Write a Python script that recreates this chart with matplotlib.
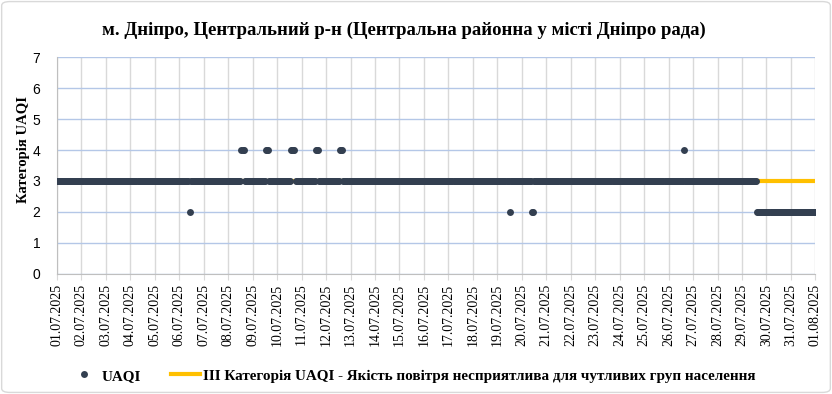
import numpy as np
import matplotlib.pyplot as plt
from matplotlib.patches import FancyBboxPatch

plt.rcParams['font.family'] = ['Liberation Serif', 'DejaVu Serif']

# hourly series, 01.07.2025 00:00 .. 01.08.2025 00:00 (hour index)
n_hours = 745
base_value = 3
hours_4 = [181, 182, 183, 205, 206, 207, 230, 231, 232, 233,
           254, 255, 256, 278, 279, 280, 615]
hours_2 = [130, 444, 466, 467]
switch_hour = 687          # from here on the category is 2
switch_value = 2
threshold = 3              # III category line

day_labels = ['%02d.07.2025' % d for d in range(1, 32)] + ['01.08.2025']

uaqi = np.full(n_hours, base_value, dtype=float)
uaqi[switch_hour:] = switch_value
uaqi[hours_4] = 4
uaqi[hours_2] = 2
hours = np.arange(n_hours)

fig = plt.figure(figsize=[8.32, 3.94], dpi=100)
ax = fig.add_axes([0.0685, 0.3046, 0.9115, 0.5507])

ax.plot([0, n_hours - 1], [threshold, threshold], color='#FFC000', lw=3, zorder=2,
        label='III Категорія UAQI - Якість повітря несприятлива для чутливих груп населення')
ax.plot(hours, uaqi, 'o', color='#333F50', ms=5, mew=0, zorder=3, label='UAQI')

ax.set_xlim(0, n_hours - 1)
ax.set_ylim(0, 7)
ax.set_xticks(np.arange(0, n_hours, 24))
ax.set_xticklabels(day_labels, rotation=90, fontsize=10)
ax.set_yticks(range(8))
ax.set_yticklabels([str(v) for v in range(8)], family='Liberation Sans', fontsize=10)
ax.tick_params(axis='y', length=0, pad=12)
ax.tick_params(axis='x', length=4, color='#D9D9D9', pad=3)

ax.grid(axis='x', color='#D9D9D9', lw=1)
ax.grid(axis='y', color='#B4C7E7', lw=1)
ax.set_axisbelow(True)
for s in ['top', 'right']:
    ax.spines[s].set_visible(False)
for s in ['left', 'bottom']:
    ax.spines[s].set_color('#BFBFBF')

fig.text(0.486, 0.922, 'м. Дніпро, Центральний р-н (Центральна районна у місті Дніпро рада)',
         ha='center', va='center', fontsize=13.5, fontweight='bold')
fig.text(0.028, 0.62, 'Категорія UAQI', rotation=90, ha='center', va='center',
         fontsize=10.5, fontweight='bold')

h, l = ax.get_legend_handles_labels()
fig.legend(h[::-1], l[::-1], loc='center', bbox_to_anchor=(0.496, 0.046), ncol=2,
           frameon=False, prop={'weight': 'bold', 'size': 10.9}, handlelength=1.9,
           columnspacing=2, handletextpad=0.2, markerscale=1)

fig.patches.append(FancyBboxPatch((0.002, 0.004), 0.996, 0.992, boxstyle='round,pad=0,rounding_size=0.01',
                                  transform=fig.transFigure, fill=False, edgecolor='#D9D9D9', lw=1))

fig.savefig('out.png', dpi=100)
plt.close(fig)
